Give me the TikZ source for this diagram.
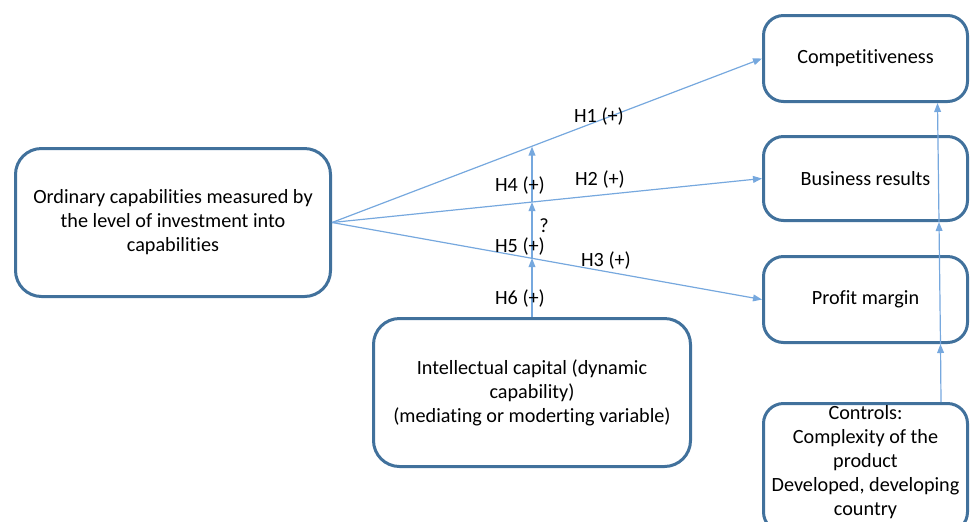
\documentclass[tikz,border=0pt]{standalone}
\usepackage{fontspec}
\setmainfont{Carlito}[Ligatures={NoCommon,NoContextual}]
\usetikzlibrary{arrows.meta,calc}
\definecolor{boxline}{RGB}{65,113,156}
\definecolor{arrowline}{RGB}{118,168,222}
\begin{document}
\begin{tikzpicture}[x=0.5pt,y=-0.5pt,
  txt/.style={font=\fontsize{10.1}{12}\selectfont},
  box/.style={txt, draw=boxline, line width=1.5pt, rounded corners=#1,
              align=center, inner sep=0pt},
  box/.default=13pt,
  link/.style={draw=arrowline, line width=0.6pt,
               -{Triangle[length=4.5pt,width=3.4pt]}},
  hyp/.style={txt, inner sep=0pt}]
\useasboundingbox (0,0) rectangle (970,521);
\clip (0,0) rectangle (970,521);

% constructs
\node[box, minimum width=157.5pt, minimum height=74pt] (ord) at (173,222.5)
  {Ordinary capabilities measured by\\the level of investment into\\capabilities};
\node[box, minimum width=158.5pt, minimum height=74pt] (ic) at (532,392.5)
  {Intellectual capital (dynamic\\capability)\\(mediating or moderting variable)};

% outcomes
\node[box=10pt, minimum width=102pt, minimum height=43pt] (comp) at (865.5,58.5)
  {Competitiveness};
\node[box=10pt, minimum width=102pt, minimum height=42pt] (br) at (865.5,178.5)
  {Business results};
\node[box=10pt, minimum width=102pt, minimum height=43pt] (pm) at (865.5,299.5)
  {Profit margin};
\node[box=10pt] (ctrl) at (865.5,467.75)
  {\parbox[c][64.25pt][t]{102pt}{\vspace*{0.8pt}\centering Controls:\\Complexity of the\\product\\Developed, developing\\country}};

% direct effects
\draw[link] (ord.east) -- (comp.west);
\draw[link] (ord.east) -- (br.west);
\draw[link] (ord.east) -- (pm.west);

% moderation by intellectual capital
\coordinate (x1) at ($(ord.east)!0.463!(comp.west)$);
\coordinate (x2) at ($(ord.east)!0.463!(br.west)$);
\coordinate (x3) at ($(ord.east)!0.463!(pm.west)$);
\draw[link] (ic.north) -- (ic.north |- x3);
\draw[link] (ic.north |- x3) -- (ic.north |- x2);
\draw[link] (ic.north |- x2) -- (ic.north |- x1);

% control variables
\coordinate (c0) at ($(ctrl.north)+(75.5,0)$);
\coordinate (c1) at ($(pm.south)+(75,0)$);
\coordinate (c2) at ($(br.south)+(73.5,0)$);
\coordinate (c3) at ($(comp.south)+(72,0)$);
\draw[link] (c0) -- (c1);
\draw[link] (c1) -- (c2);
\draw[link] (c2) -- (c3);

% hypothesis labels
\node[hyp] (h1) at (599,117) {H1 (+)};
\node[hyp] (h2) at (600,180) {H2 (+)};
\node[hyp] (h3) at (606,261) {H3 (+)};
\node[hyp] (h4) at (520,186) {H4 (+)};
\node[hyp] (h5) at (520,247) {H5 (+)};
\node[hyp] (h6) at (520,299) {H6 (+)};
\node[hyp] (q) at (544,226) {?};
\end{tikzpicture}
\end{document}
